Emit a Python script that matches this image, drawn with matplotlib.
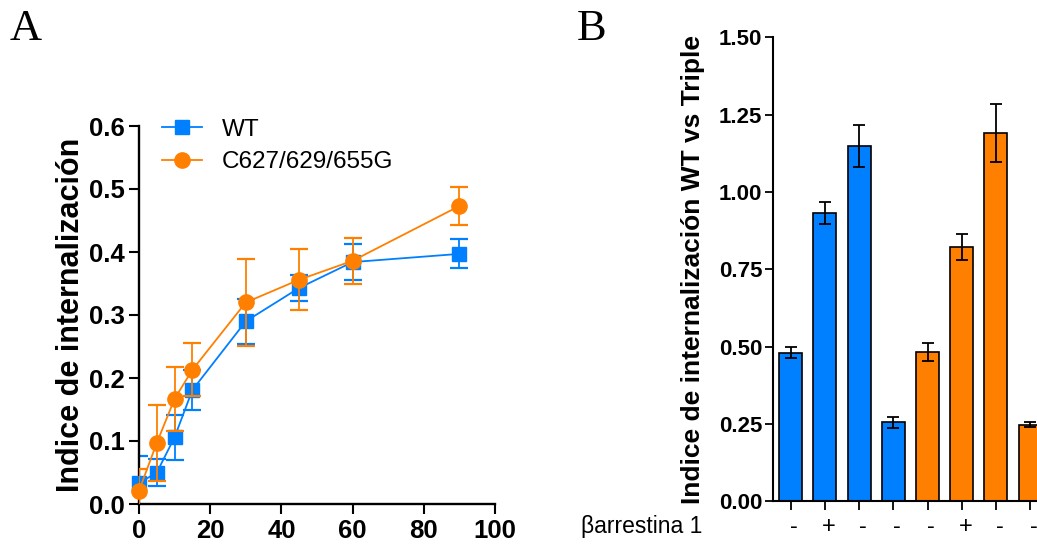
import matplotlib
matplotlib.use("Agg")
import matplotlib.pyplot as plt
from matplotlib.transforms import ScaledTranslation

plt.rcParams['font.family'] = ['Liberation Sans', 'DejaVu Sans']

blue = '#0080FF'
orange = '#FF8000'

# panel A: time course
tiempo = [0, 5, 10, 15, 30, 45, 60, 90]
wt = [0.033, 0.050, 0.106, 0.181, 0.290, 0.343, 0.384, 0.397]
wt_err = [0.043, 0.022, 0.036, 0.031, 0.036, 0.020, 0.028, 0.023]
mut = [0.021, 0.097, 0.167, 0.213, 0.320, 0.356, 0.386, 0.473]
mut_err = [0.035, 0.060, 0.051, 0.042, 0.069, 0.048, 0.036, 0.030]

# panel B: bars
barras = [0.481, 0.933, 1.149, 0.256, 0.484, 0.822, 1.191, 0.248]
barras_err = [0.019, 0.036, 0.069, 0.018, 0.029, 0.041, 0.093, 0.007]
barras_col = [blue, blue, blue, blue, orange, orange, orange, orange]
signos = ['-', '+', '-', '-', '-', '+', '-', '-']

fig = plt.figure(figsize=(10.37, 5.48), dpi=100)

# ---- A ----
ax = fig.add_axes([139/1037, 44/548, 356/1037, 378/548])
e1 = ax.errorbar(tiempo, wt, yerr=wt_err, fmt='none', ecolor=blue,
                 elinewidth=1.3, capsize=6.5, capthick=1.6)
l1, = ax.plot(tiempo, wt, '-s', color=blue, lw=1.3, ms=10.5, label='WT',
              clip_on=False, zorder=3)
e2 = ax.errorbar(tiempo, mut, yerr=mut_err, fmt='none', ecolor=orange,
                 elinewidth=1.3, capsize=6.5, capthick=1.6, zorder=4)
l2, = ax.plot(tiempo, mut, '-o', color=orange, lw=1.3, ms=11,
              label='C627/629/655G', clip_on=False, zorder=5)

ax.set_xlim(0, 100)
ax.set_ylim(0, 0.6)
ax.set_xticks([0, 20, 40, 60, 80, 100])
ax.set_yticks([0.0, 0.1, 0.2, 0.3, 0.4, 0.5, 0.6])
ax.set_yticklabels(['0.0', '0.1', '0.2', '0.3', '0.4', '0.5', '0.6'])
for s in ['top', 'right']:
    ax.spines[s].set_visible(False)
for s in ['left', 'bottom']:
    ax.spines[s].set_linewidth(1.7)
ax.tick_params(length=7.5, width=1.5, labelsize=18.5, pad=3)
for lbl in ax.get_xticklabels() + ax.get_yticklabels():
    lbl.set_fontweight('bold')
ax.set_ylabel('Indice de internalización', fontsize=22, fontweight='bold')
ax.yaxis.set_label_coords(-0.148, 0.5)
ax.legend(handles=[l1, l2], loc='upper left', bbox_to_anchor=(0.0646, 1.019),
          frameon=False, fontsize=17.5, borderpad=0, borderaxespad=0,
          handlelength=1.65, handletextpad=0.8, labelspacing=0.42)

# ---- B ----
bx = fig.add_axes([773.3/1037, 46.7/548, 263.7/1037, 463.8/548])
pos = list(range(len(barras)))
bx.bar(pos, barras, width=0.67, color=barras_col, edgecolor='black',
       linewidth=1.2, yerr=barras_err,
       error_kw=dict(ecolor='black', elinewidth=1.3, capsize=4.2, capthick=1.3))
bx.set_xlim(-0.51, 7.2)
bx.set_ylim(0, 1.5)
bx.set_yticks([0, 0.25, 0.5, 0.75, 1.0, 1.25, 1.5])
bx.set_yticklabels(['0.00', '0.25', '0.50', '0.75', '1.00', '1.25', '1.50'])
bx.set_xticks(pos)
bx.set_xticklabels(signos, fontsize=17)
for s in ['top', 'right']:
    bx.spines[s].set_visible(False)
for s in ['left', 'bottom']:
    bx.spines[s].set_linewidth(1.5)
bx.tick_params(axis='y', length=6, width=1.3, labelsize=16, pad=2)
bx.tick_params(axis='x', length=6.5, width=1.3, pad=4)
for lbl in bx.get_yticklabels():
    lbl.set_fontweight('bold')
shift = ScaledTranslation(0.035, 0, fig.dpi_scale_trans)
for lbl in bx.get_xticklabels():
    lbl.set_transform(lbl.get_transform() + shift)
bx.set_ylabel('Indice de internalización WT vs Triple', fontsize=19,
              fontweight='bold')
bx.yaxis.set_label_coords(-0.26, 0.5)

fig.text(702/1037, 15/548, 'βarrestina 1', fontsize=16.5, ha='right', va='baseline')

fig.text(10/1037, 508/548, 'A', fontsize=32, family='Liberation Serif', va='baseline')
fig.text(577/1037, 508/548, 'B', fontsize=32, family='Liberation Serif', va='baseline')

fig.savefig('out.png', dpi=100)
